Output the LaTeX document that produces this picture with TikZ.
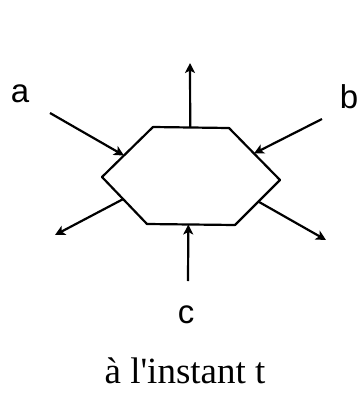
\documentclass[tikz,border=0pt]{standalone}
\usepackage{fontspec}
\setmainfont{Liberation Serif}[Ligatures=TeXOff]
\setsansfont{Liberation Sans}
\usetikzlibrary{positioning, arrows.meta, calc}

\begin{document}
\begin{tikzpicture}[>={Stealth[length=10pt,width=10pt,inset=2.5pt]}, x=1pt, y=-1pt, line width=2.2pt,
    lab/.style={anchor=base, inner sep=0pt, font=\sffamily\fontsize{33}{36}\selectfont}]

    \useasboundingbox (0,0) rectangle (363,405);

    % Sommets de l'hexagone
    \coordinate (hL)  at (102,177);
    \coordinate (hTL) at (153,127);
    \coordinate (hTR) at (229,128);
    \coordinate (hR)  at (280,180);
    \coordinate (hBR) at (235,225);
    \coordinate (hBL) at (147,224);

    % Contour de l'hexagone
    \draw[line join=round] (hL) -- (hTL) -- (hTR) -- (hR) -- (hBR) -- (hBL) -- cycle;

    % Points sur les cotes
    \coordinate (pA)   at ($(hL)!0.43!(hTL)$);
    \coordinate (pB)   at ($(hTR)!0.49!(hR)$);
    \coordinate (pOL)  at ($(hL)!0.47!(hBL)$);
    \coordinate (pOR)  at ($(hR)!0.48!(hBR)$);
    \coordinate (pTop) at ($(hTL)!0.49!(hTR)$);
    \coordinate (pC)   at ($(hBL)!0.47!(hBR)$);

    % Extremites libres
    \coordinate (sA)   at (50,113);
    \coordinate (sB)   at (322,119);
    \coordinate (eOL)  at (55,235);
    \coordinate (eOR)  at (326,240);
    \coordinate (eTop) at (190,63);
    \coordinate (sC)   at (188,281);

    % Entrees
    \draw[->] (sA) -- (pA);
    \draw[->] (sB) -- (pB);
    \draw[->] (sC) -- (pC);

    % Sorties
    \draw[->] (pTop) -- (eTop);
    \draw[->] (pOL) -- (eOL);
    \draw[->] (pOR) -- (eOR);

    % Etiquettes
    \node[lab] (la) at (20,102) {a};
    \node[lab] (lb) at (349,108) {b};
    \node[lab] (lc) at (186,323) {c};
    \node[anchor=base, inner sep=0pt, font=\fontsize{37}{40}\selectfont] (titre) at (185,383) {à l'instant t};

\end{tikzpicture}
\end{document}
